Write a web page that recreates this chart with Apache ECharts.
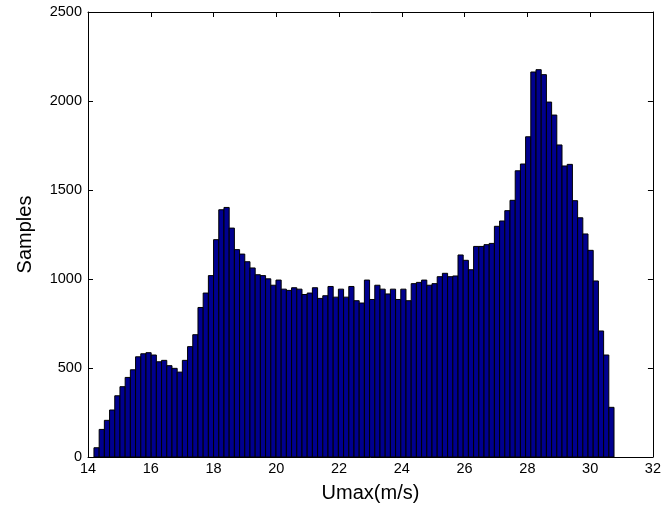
<!DOCTYPE html>
<html>
<head>
<meta charset="utf-8">
<script src="https://cdn.jsdelivr.net/npm/echarts@6/dist/echarts.min.js"></script>
<style>html,body{margin:0;padding:0;background:#fff}#c{width:664px;height:512px}</style>
</head>
<body>
<div id="c"></div>
<script>
// Histogram of Umax: 100 equal bins
var binStart = 14.19;
var binWidth = 0.1657;
var counts = [
  52,155,206,264,344,395,447,490,563,580,
  586,573,535,543,513,498,477,543,620,687,
  840,921,1019,1221,1389,1402,1286,1165,1140,1097,
  1062,1024,1019,1001,965,994,943,936,951,943,
  913,921,951,891,906,958,898,943,898,958,
  878,865,994,885,965,943,916,943,885,943,
  878,974,981,994,965,974,1013,1032,1013,1017,
  1135,1105,1052,1183,1183,1193,1200,1296,1326,1384,
  1442,1608,1646,1799,2163,2176,2148,1994,1921,1753,
  1635,1644,1440,1344,1253,1161,989,708,573,279
];
var xTicks = [14,16,18,20,22,24,26,28,30,32];
var yTicks = [0,500,1000,1500,2000,2500];
var xLabel = 'Umax(m/s)';
var yLabel = 'Samples';

var data = counts.map(function(c, i){
  return [binStart + i*binWidth, binStart + (i+1)*binWidth, c];
});

var font = 'Liberation Sans, Arial, sans-serif';
var chart = echarts.init(document.getElementById('c'), null, {renderer:'canvas'});
var axisCommon = {
  axisLine:{show:true, onZero:false, lineStyle:{color:'#000', width:1}},
  axisTick:{show:true, inside:true, length:5, lineStyle:{color:'#000'}},
  splitLine:{show:false}
};
function plain(v){ return String(v); }
chart.setOption({
  animation:false,
  backgroundColor:'#fff',
  grid:{left:88, right:11, top:12, bottom:55, containLabel:false},
  xAxis:[
    Object.assign({
      type:'value', min:xTicks[0], max:xTicks[xTicks.length-1], interval:2,
      position:'bottom',
      name:xLabel, nameLocation:'middle', nameGap:26,
      nameTextStyle:{fontFamily:font, fontSize:20, color:'#000'},
      axisLabel:{show:true, fontFamily:font, fontSize:14.5, color:'#000', margin:4, formatter:plain}
    }, axisCommon),
    Object.assign({
      type:'value', min:xTicks[0], max:xTicks[xTicks.length-1], interval:2,
      position:'top', axisLabel:{show:false}
    }, axisCommon)
  ],
  yAxis:[
    Object.assign({
      type:'value', min:yTicks[0], max:yTicks[yTicks.length-1], interval:500,
      position:'left',
      name:yLabel, nameLocation:'middle', nameGap:53,
      nameTextStyle:{fontFamily:font, fontSize:20, color:'#000'},
      axisLabel:{show:true, fontFamily:font, fontSize:14.5, color:'#000', margin:6, formatter:plain}
    }, axisCommon),
    Object.assign({
      type:'value', min:yTicks[0], max:yTicks[yTicks.length-1], interval:500,
      position:'right', axisLabel:{show:false}
    }, axisCommon)
  ],
  series:[{
    type:'custom',
    xAxisIndex:0, yAxisIndex:0,
    encode:{x:[0,1], y:2},
    data:data,
    renderItem:function(params, api){
      var p0 = api.coord([api.value(0), api.value(2)]);
      var p1 = api.coord([api.value(1), 0]);
      return {
        type:'rect',
        shape:{x:p0[0], y:p0[1], width:p1[0]-p0[0], height:p1[1]-p0[1]},
        style:{fill:'#00008f', stroke:'#000', lineWidth:1}
      };
    }
  }]
});
</script>
</body>
</html>
